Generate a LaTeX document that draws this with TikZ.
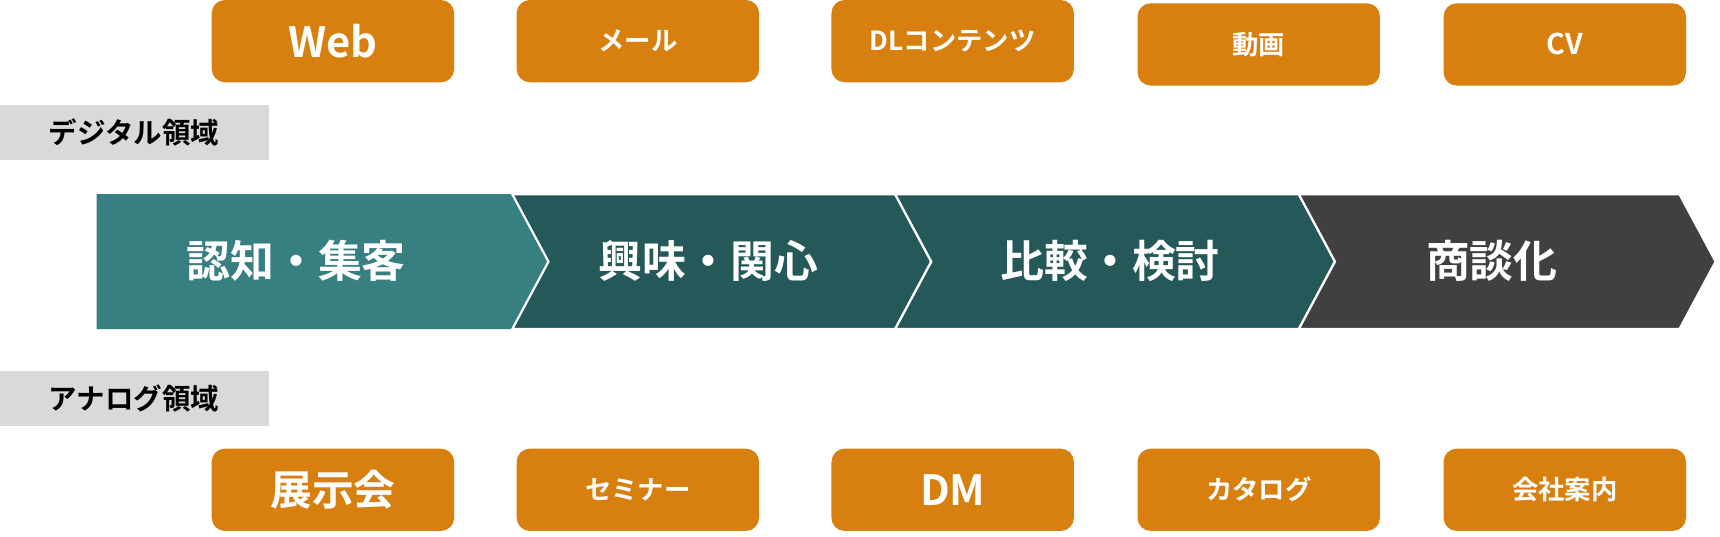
\documentclass[tikz,border=0pt]{standalone}
\usepackage{fontspec}
\setmainfont{Noto Sans CJK JP}[BoldFont={Noto Sans CJK JP Bold}]
\definecolor{org}{HTML}{D7800F}
\definecolor{teal1}{HTML}{377F80}
\definecolor{teal2}{HTML}{255859}
\definecolor{dgray}{HTML}{404040}
\definecolor{lgray}{HTML}{D9D9D9}
\begin{document}
\begin{tikzpicture}[x=0.5pt,y=-0.5pt,
  obox/.style={fill=org,rounded corners=6pt,text=white,font=\bfseries},
  glabel/.style={fill=lgray,font=\bfseries\fontsize{13}{15}\selectfont},
  chev/.style={draw=white,line width=1pt},
  ctext/.style={text=white,font=\bfseries\fontsize{20}{24}\selectfont}]
\useasboundingbox (0,0) rectangle (1568,489);
\def\ob#1#2#3#4#5{\fill[obox] (#1,#2) rectangle +(221,75); \node[text=white,font=\bfseries\fontsize{#4}{#4}\selectfont] (#5) at (#1+110.5,#2+37.5) {#3};}
\ob{193}{0}{Web}{19}{web}
\ob{471}{0}{メール}{12}{mail}
\ob{758}{0}{DLコンテンツ}{12}{dl}
\ob{1037}{3}{動画}{12}{movie}
\ob{1316}{3}{CV}{13}{cv}
\ob{193}{409}{展示会}{19}{exh}
\ob{471}{409}{セミナー}{12}{sem}
\ob{758}{409}{DM}{19}{dm}
\ob{1037}{409}{カタログ}{12}{cat}
\ob{1316}{409}{会社案内}{12}{comp}
\fill[lgray] (0,96) rectangle (245,146);
\node[font=\bfseries\fontsize{13}{15}\selectfont] (dig) at (122,121) {デジタル領域};
\fill[lgray] (0,338) rectangle (245,388);
\node[font=\bfseries\fontsize{13}{15}\selectfont] (ana) at (122,363) {アナログ領域};
\fill[teal1] (88,177) -- (467,177) -- (500,238.5) -- (467,300) -- (88,300) -- cycle;
\filldraw[chev,fill=teal2] (467,177) -- (816,177) -- (849,238.5) -- (816,300) -- (467,300) -- (500,238.5) -- cycle;
\filldraw[chev,fill=teal2] (816,177) -- (1184,177) -- (1217,238.5) -- (1184,300) -- (816,300) -- (849,238.5) -- cycle;
\filldraw[chev,fill=dgray] (1184,177) -- (1531,177) -- (1564,238.5) -- (1531,300) -- (1184,300) -- (1217,238.5) -- cycle;
\node[ctext] (s1) at (270,238) {認知・集客};
\node[ctext] (s2) at (646,238) {興味・関心};
\node[ctext] (s3) at (1012,238) {比較・検討};
\node[ctext] (s4) at (1360,238) {商談化};
\end{tikzpicture}
\end{document}
